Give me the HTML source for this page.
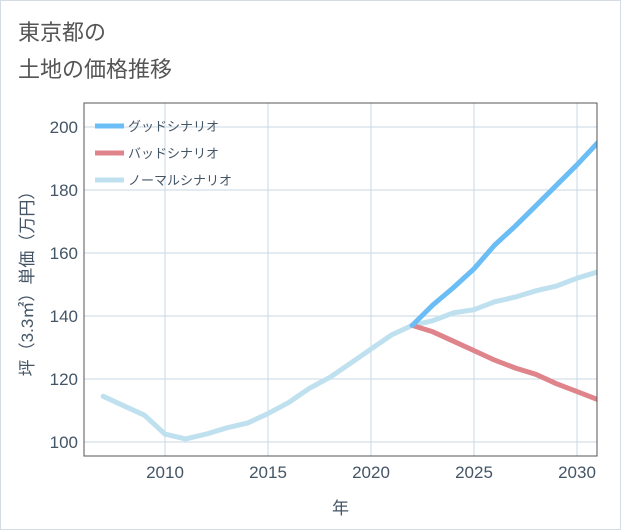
<!DOCTYPE html>
<html><head><meta charset="utf-8"><style>
html,body{margin:0;padding:0;background:#fff;}
body{width:621px;height:530px;overflow:hidden;font-family:"Liberation Sans","Noto Sans CJK JP",sans-serif;}
#frame{position:absolute;left:0;top:0;width:619px;height:528px;border:1px solid #d5dbe5;}
</style></head><body>
<div id="frame"></div>
<svg id="chart" width="621" height="530" style="position:absolute;left:0;top:0">
<text x="18" y="40" font-size="22" fill="#555" font-family="Liberation Sans, Noto Sans CJK JP, sans-serif">東京都の</text>
<text x="18" y="77" font-size="22" fill="#555" font-family="Liberation Sans, Noto Sans CJK JP, sans-serif">土地の価格推移</text>
<g id="grid"></g><g id="series"></g><g id="axes"></g><g id="legend"></g>
</svg>
<script>
const years=[2007,2008,2009,2010,2011,2012,2013,2014,2015,2016,2017,2018,2019,2020,2021,2022,2023,2024,2025,2026,2027,2028,2029,2030,2031];
const normalValues=[114.5,111.5,108.5,102.5,101,102.5,104.5,106,109,112.5,117,120.5,125,129.5,134,137,138.5,141,142,144.5,146,148,149.5,152,154];
const scenarioYears=[2022,2023,2024,2025,2026,2027,2028,2029,2030,2031];
const goodValues=[137,143.5,149,155,162.5,168.5,175,181.5,188,195];
const badValues=[137,135,132,129,126,123.5,121.5,118.5,116,113.5];
const xTicks=[2010,2015,2020,2025,2030];
const yTicks=[100,120,140,160,180,200];
const legendLabels=["グッドシナリオ","バッドシナリオ","ノーマルシナリオ"];
const legendColors=["#6bbdf5","#e0848c","#bfe0ee"];

const L=84,R=597,T=103,B=456;
const x=v=>165+(v-2010)*20.6;
const y=v=>442-(v-100)*3.15;
const NS="http://www.w3.org/2000/svg";
function mk(tag,attrs,parent){const e=document.createElementNS(NS,tag);for(const k in attrs)e.setAttribute(k,attrs[k]);document.getElementById(parent).appendChild(e);return e;}
const F="Liberation Sans, Noto Sans CJK JP, sans-serif";

let r=mk('rect',{x:L,y:T,width:R-L,height:B-T,fill:"#fff",stroke:"#444","stroke-width":1},'grid');


xTicks.forEach(t=>{
  const g=mk('line',{x1:x(t),x2:x(t),y1:T,y2:B,stroke:"#c8d8e6","stroke-width":1},'grid');
  
  
  const tx=mk('text',{x:x(t),y:B+22,"text-anchor":"middle","font-size":17,fill:"#445566","font-family":F},'axes');
  tx.textContent=t;
  
  
});
yTicks.forEach(t=>{
  const g=mk('line',{x1:L,x2:R,y1:y(t),y2:y(t),stroke:"#c8d8e6","stroke-width":1},'grid');
  
  
  const tx=mk('text',{x:L-6,y:y(t)+6,"text-anchor":"end","font-size":17,fill:"#445566","font-family":F},'axes');
  tx.textContent=t;
  
  
});
r=mk('rect',{x:L,y:T,width:R-L,height:B-T,fill:"none",stroke:"#555","stroke-width":1},'axes');


const xt=mk('text',{x:(L+R)/2,y:514,"text-anchor":"middle","font-size":17,fill:"#445566","font-family":F},'axes');
xt.textContent="年";


const yt=mk('text',{x:0,y:0,"text-anchor":"middle","font-size":17,fill:"#445566","font-family":F,transform:`translate(33,${(T+B)/2}) rotate(-90)`},'axes');
yt.textContent="坪（3.3㎡）単価（万円）";



function line(xs,vs,color,name){
  const d=xs.map((v,i)=>(i?'L':'M')+x(v).toFixed(1)+','+y(vs[i]).toFixed(1)).join(' ');
  const p=mk('path',{d,fill:"none",stroke:color,"stroke-width":5,"stroke-linejoin":"round","stroke-linecap":"round","clip-path":"url(#clip)"},'series');
  
  
}
const defs=document.createElementNS(NS,'defs');
defs.innerHTML=`<clipPath id="clip"><rect x="${L}" y="${T}" width="${R-L}" height="${B-T}"/></clipPath>`;
document.getElementById('chart').appendChild(defs);
line(years,normalValues,legendColors[2],'normal-scenario-line');
line(scenarioYears,badValues,legendColors[1],'bad-scenario-line');
line(scenarioYears,goodValues,legendColors[0],'good-scenario-line');

legendLabels.forEach((lab,i)=>{
  const yy=126+i*27;
  const l=mk('line',{x1:95,x2:124,y1:yy,y2:yy,stroke:legendColors[i],"stroke-width":5},'legend');
  
  
  const t=mk('text',{x:128,y:yy+5,"font-size":13,fill:"#445566","font-family":F},'legend');
  t.textContent=lab;
  
  
});
</script>
</body></html>
